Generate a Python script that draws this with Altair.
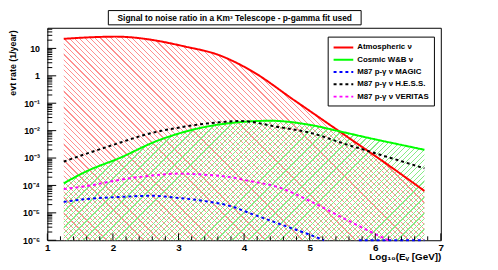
import math
import altair as alt
import pandas as pd

# ---------------- data ----------------
series_names = ["Atmospheric ν", "Cosmic W&B ν", "M87 p-γ ν MAGIC",
                "M87 p-γ ν H.E.S.S.", "M87 p-γ ν VERITAS"]
series_colors = ["#ff0000", "#00ff00", "#0000ff", "#000000", "#ff00ff"]

x_atm = [1.25, 1.6, 2.05, 2.35, 2.6, 3.1, 3.6, 4.1, 4.77, 5.45, 6.27, 6.75]
v_atm = [22.4, 25.1, 26.9, 24.5, 20.4, 11.7, 5.9, 1.58, 0.126, 0.0095, 4.2e-4, 6.3e-5]

x_cos = [1.25, 1.6, 2.1, 2.67, 3.35, 4.05, 4.4, 5.03, 5.45, 6.0, 6.27, 6.75]
v_cos = [1.2e-4, 3.3e-4, 1.0e-3, 4.2e-3, 0.0128, 0.0214, 0.0229, 0.0158, 0.0095,
         0.0048, 0.0035, 0.0020]

x_magic = [1.25, 1.6, 2.1, 2.6, 3.0, 3.35, 3.85, 4.05, 4.52, 5.03, 5.22]
v_magic = [2.5e-5, 3.2e-5, 3.8e-5, 4.2e-5, 3.5e-5, 2.8e-5, 1.6e-5, 1.05e-5,
           4.1e-6, 1.5e-6, 1.0e-6]
x_magic_tail = [5.75, 6.75]
v_magic_tail = [1.0e-6, 1.0e-6]

x_hess = [1.25, 1.6, 2.0, 2.6, 3.1, 3.6, 3.95, 4.5, 5.03, 5.5, 6.0, 6.75]
v_hess = [7.4e-4, 1.45e-3, 3.0e-3, 8.3e-3, 0.0141, 0.020, 0.0224, 0.0138, 8.1e-3,
          3.5e-3, 1.5e-3, 4.2e-4]

x_ver = [1.25, 1.6, 2.1, 2.6, 3.0, 3.35, 3.85, 4.05, 4.52, 5.03, 5.52, 6.02, 6.2]
v_ver = [7.4e-5, 9.5e-5, 1.6e-4, 2.3e-4, 2.7e-4, 2.5e-4, 1.9e-4, 1.5e-4, 8.7e-5,
         2.5e-5, 6.3e-6, 1.6e-6, 1.0e-6]

x_ticks_major = [1, 2, 3, 4, 5, 6, 7]
x_ticks_minor = [1.2, 1.4, 1.6, 1.8, 2.2, 2.4, 2.6, 2.8, 3.2, 3.4, 3.6, 3.8,
                 4.2, 4.4, 4.6, 4.8, 5.2, 5.4, 5.6, 5.8, 6.2, 6.4, 6.6, 6.8]
y_ticks_major = [1e-6, 1e-5, 1e-4, 1e-3, 1e-2, 1e-1, 1, 10]
y_tick_labels = ["10⁻⁶", "10⁻⁵", "10⁻⁴", "10⁻³", "10⁻²", "10⁻¹", "1", "10"]
y_ticks_minor = [k * 10.0 ** e for e in range(-6, 2) for k in range(2, 10)
                 if k * 10.0 ** e < 56]

title_text = "Signal to noise ratio in a Km³ Telescope - p-gamma fit used"
x_title = "Log₁₀(Eᵥ [GeV])"
y_title = "evt rate (1/year)"

# ---------------- layout ----------------
PW, PH = 400, 216
XMIN, XMAX = 1, 7
YMIN, YMAX = 1e-6, 56.6
FONT = "Liberation Sans"

xscale = alt.Scale(domain=[XMIN, XMAX], nice=False, zero=False)
yscale = alt.Scale(type="log", domain=[YMIN, YMAX], nice=False)


def hatch(color, xs, vs, direction, pitch=5.4, frac=0.22):
    """45 degree stripe gradient (bbox units) for an area filled to the bottom."""
    W = PW * (max(xs) - min(xs)) / (XMAX - XMIN)
    H = PH * (math.log10(max(vs)) - math.log10(YMIN)) / (math.log10(YMAX) - math.log10(YMIN))
    b = W / H
    n = int(round(H * (b * b + 1) / pitch))
    clear = "rgba(255,255,255,0)"
    stops = []
    for i in range(n):
        o0 = i / n
        o1 = (i + frac) / n
        o2 = (i + 1) / n
        stops += [{"offset": o0, "color": color}, {"offset": o1, "color": color},
                  {"offset": o1, "color": clear}, {"offset": o2, "color": clear}]
    if direction == "down":
        x1, y1, x2, y2 = 0, 1, b, 0
    else:
        x1, y1, x2, y2 = 0, 0, b, 1
    return {"gradient": "linear", "x1": x1, "y1": y1, "x2": x2, "y2": y2, "stops": stops}


df_atm = pd.DataFrame({"x": x_atm, "v": v_atm})
df_cos = pd.DataFrame({"x": x_cos, "v": v_cos})

rows = []
for name, seg, xs, vs in [
    (series_names[0], 0, x_atm, v_atm),
    (series_names[1], 0, x_cos, v_cos),
    (series_names[2], 0, x_magic, v_magic),
    (series_names[2], 1, x_magic_tail, v_magic_tail),
    (series_names[3], 0, x_hess, v_hess),
    (series_names[4], 0, x_ver, v_ver),
]:
    for xv, vv in zip(xs, vs):
        rows.append({"x": xv, "v": vv, "series": name, "seg": f"{name}-{seg}"})
df_lines = pd.DataFrame(rows)

ylabel_expr = "''"
for val, lab in zip(y_ticks_major, y_tick_labels):
    ylabel_expr = f"(datum.value > {val / 2}) ? '{lab}' : {ylabel_expr}"

x_axis = alt.Axis(values=x_ticks_major, format="d", domain=False, ticks=False,
                  grid=False, labelPadding=2, labelFont=FONT, labelFontSize=10,
                  labelFontWeight="bold", labelColor="black", labelBaseline="top",
                  labelFlush=False, labelOverlap=False,
                  title=x_title, titleFont=FONT, titleFontSize=10,
                  titleFontWeight="bold", titleColor="black", titleX=PW,
                  titleY=17, titleAlign="right", titleBaseline="middle")
y_axis = alt.Axis(values=y_ticks_major, labelExpr=ylabel_expr, domain=False,
                  ticks=False, grid=False, labelPadding=8, labelFont=FONT,
                  labelFontSize=9, labelFontWeight="bold", labelColor="black",
                  labelFlush=False, labelOverlap=False,
                  title=y_title, titleFont=FONT, titleFontSize=9,
                  titleFontWeight="bold", titleColor="black", titleAngle=-90,
                  titleX=-35, titleY=2, titleAlign="right", titleBaseline="middle")

area_atm = alt.Chart(df_atm).mark_area(
    interpolate="monotone", fill=hatch("#ff8f8f", x_atm, v_atm, "down")
).encode(
    x=alt.X("x:Q", scale=xscale, axis=x_axis),
    y=alt.Y("v:Q", scale=yscale, axis=y_axis),
    y2=alt.datum(YMIN),
)

area_cos = alt.Chart(df_cos).mark_area(
    interpolate="monotone", fill=hatch("#86ec86", x_cos, v_cos, "up")
).encode(
    x=alt.X("x:Q", scale=xscale),
    y=alt.Y("v:Q", scale=yscale),
    y2=alt.datum(YMIN),
)

lines = alt.Chart(df_lines).mark_line(interpolate="monotone", strokeCap="butt").encode(
    x=alt.X("x:Q", scale=xscale),
    y=alt.Y("v:Q", scale=yscale),
    color=alt.Color("series:N", title=None,
                    scale=alt.Scale(domain=series_names, range=series_colors),
                    legend=alt.Legend(
                        orient="none", legendX=285, legendY=9,
                        fillColor="white", strokeColor="black", padding=5,
                        cornerRadius=0, symbolType="M-1,0H3", symbolSize=100,
                        symbolStrokeWidth=2.5, labelOffset=13, rowPadding=2.5,
                        labelFont=FONT, labelFontSize=8, labelFontWeight="bold",
                        labelColor="black", labelLimit=200)),
    strokeDash=alt.StrokeDash("series:N", title=None,
                              scale=alt.Scale(domain=series_names,
                                              range=[[1, 0], [1, 0], [3, 3], [3, 3], [3, 3]])),
    strokeWidth=alt.StrokeWidth("series:N", legend=None,
                                scale=alt.Scale(domain=series_names, range=[2, 2, 3, 3, 3])),
    detail="seg:N",
    order=alt.Order("x:Q"),
)

ytick_major = alt.Chart(pd.DataFrame({"t": y_ticks_major})).mark_rule(
    color="black", strokeWidth=1).encode(
    y=alt.Y("t:Q", scale=yscale), x=alt.value(0), x2=alt.value(9))
ytick_minor = alt.Chart(pd.DataFrame({"t": y_ticks_minor})).mark_rule(
    color="black", strokeWidth=1).encode(
    y=alt.Y("t:Q", scale=yscale), x=alt.value(0), x2=alt.value(5))
xtick_major = alt.Chart(pd.DataFrame({"t": x_ticks_major})).mark_rule(
    color="black", strokeWidth=1).encode(
    x=alt.X("t:Q", scale=xscale), y=alt.value(PH), y2=alt.value(PH - 7))
xtick_minor = alt.Chart(pd.DataFrame({"t": x_ticks_minor})).mark_rule(
    color="black", strokeWidth=1).encode(
    x=alt.X("t:Q", scale=xscale), y=alt.value(PH), y2=alt.value(PH - 4))

one = pd.DataFrame({"a": [0]})
title_box = alt.Chart(one).mark_rect(fill="white", stroke="black", strokeWidth=1).encode(
    x=alt.value(62), x2=alt.value(319), y=alt.value(-17.5), y2=alt.value(-3))
title_mark = alt.Chart(one).mark_text(
    text=title_text, font=FONT, fontSize=8.5, fontWeight="bold", color="black",
    align="center", baseline="middle").encode(x=alt.value(190.5), y=alt.value(-10))

chart = alt.layer(
    area_atm, area_cos, lines,
    ytick_major, ytick_minor, xtick_major, xtick_minor,
    title_box, title_mark,
).properties(
    width=PW, height=PH,
    padding={"left": 40, "top": 18, "right": 50, "bottom": 20},
    autosize=alt.AutoSizeParams(type="none"),
    background="white",
).configure_view(stroke="black", strokeWidth=1)

chart.save("out.html", embed_options={"renderer": "svg", "actions": False})
